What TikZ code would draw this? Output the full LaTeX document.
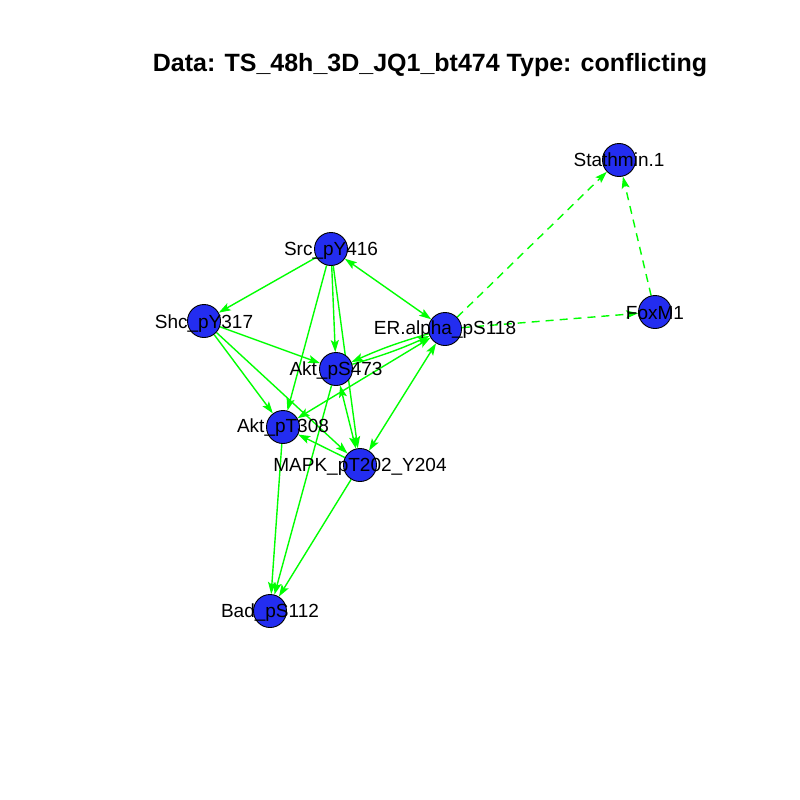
\documentclass[tikz,border=0pt]{standalone}
\usepackage{fontspec}
\setmainfont{Liberation Sans}
\usetikzlibrary{arrows.meta,backgrounds}
\definecolor{vblue}{RGB}{35,45,240}
\definecolor{egreen}{RGB}{0,255,0}
\begin{document}
\begin{tikzpicture}[x=1pt,y=-1pt,
  vtx/.style={circle,draw=black,line width=0.9pt,fill=vblue,minimum size=33pt,inner sep=0pt},
  lbl/.style={anchor=base,inner sep=0pt,font=\fontsize{19}{19}\selectfont},
  edge/.style={draw=egreen,line width=1.4pt,-{Stealth[length=12pt,width=8pt,inset=2.5pt]}},
  both/.style={edge,{Stealth[length=12pt,width=8pt,inset=2.5pt]}-{Stealth[length=12pt,width=8pt,inset=2.5pt]}},
  dedge/.style={edge,dash pattern=on 8pt off 6pt}]
\useasboundingbox (0,0) rectangle (800,800);
\node[anchor=base,inner sep=0pt,font=\bfseries\fontsize{25}{25}\selectfont] (title) at (430,71)
  {Data: TS\_48h\_3D\_JQ1\_bt474 Type: conflicting};

% vertices
\node[vtx] (src)  at (331,249) {};
\node[vtx] (shc)  at (204,321) {};
\node[vtx] (as)   at (336,369) {};
\node[vtx] (er)   at (445,329) {};
\node[vtx] (at)   at (283,427) {};
\node[vtx] (mapk) at (360,465) {};
\node[vtx] (bad)  at (270,611) {};
\node[vtx] (stm)  at (619,160) {};
\node[vtx] (fox)  at (655,312) {};

% edges beneath the vertices
\begin{scope}[on background layer]
\draw[edge] (src) -- (shc);
\draw[both] (src) -- (er);
\draw[edge] (src) -- (as);
\draw[edge] (src) -- (at);
\draw[edge] (src) -- (mapk);
\draw[edge] (shc) -- (as);
\draw[edge] (shc) -- (at);
\draw[edge] (shc) -- (mapk);
\draw[edge] (er) to[bend right=4] (as);
\draw[edge] (as) to[bend right=4] (er);
\draw[both] (at) -- (er);
\draw[both] (er) -- (mapk);
\draw[both] (as) -- (mapk);
\draw[edge] (mapk) -- (at);
\draw[edge] (at) -- (bad);
\draw[edge] (as) -- (bad);
\draw[edge] (mapk) -- (bad);
\draw[dedge] (er) -- (stm);
\draw[dedge] (er) -- (fox);
\draw[dedge] (fox) -- (stm);
\end{scope}

% vertex labels
\node[lbl] (srcL)  at (331,255) {Src\_pY416};
\node[lbl] (shcL)  at (204,328) {Shc\_pY317};
\node[lbl] (asL)   at (336,375) {Akt\_pS473};
\node[lbl] (erL)   at (445,334) {ER.alpha\_pS118};
\node[lbl] (atL)   at (283,432) {Akt\_pT308};
\node[lbl] (mapkL) at (360,471) {MAPK\_pT202\_Y204};
\node[lbl] (badL)  at (270,617) {Bad\_pS112};
\node[lbl] (stmL)  at (619,166) {Stathmin.1};
\node[lbl] (foxL)  at (655,319) {FoxM1};
\end{tikzpicture}
\end{document}
